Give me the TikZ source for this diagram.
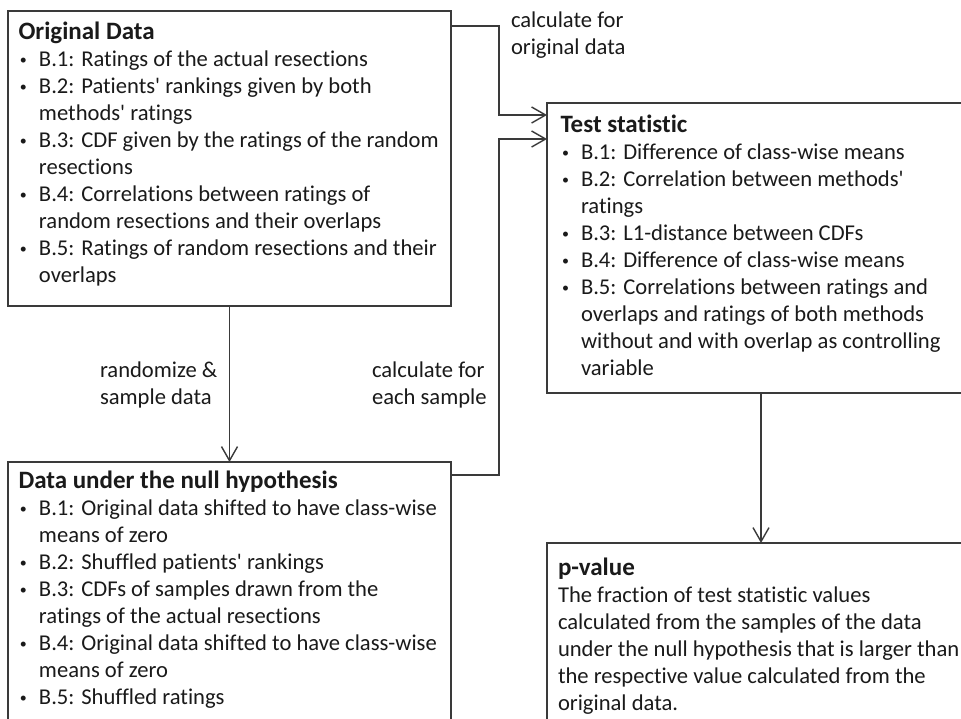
\documentclass[tikz,border=0pt]{standalone}
\usepackage{fontspec}
\newfontfamily\calib[Ligatures=NoCommon]{Carlito}
\usetikzlibrary{arrows.meta,calc}
\definecolor{ln}{HTML}{3A3A3A}
\definecolor{tx}{HTML}{1A1A1A}
\newcommand\nl{\hfil\break}
\newcommand\ttl[1]{{\fontsize{25}{27}\selectfont\bfseries #1}\par}
\newcommand\bul{\hbox to 20.5pt{\kern1.5pt\raisebox{2pt}{\fontsize{14}{14}\selectfont•}\hss}}
\newcommand\itm[1]{\hangindent=20.5pt\hangafter=1\noindent\bul #1\par}
\newcommand\blk[1]{\vtop{\hsize=600pt\calib\fontsize{22.6}{27}\selectfont\parindent=0pt\parfillskip=0pt plus 1fil\lineskiplimit=-20pt #1}}
\tikzset{
  x=1pt, y=-1pt,
  bx/.style={draw=ln, line width=1.5pt, anchor=north west, inner sep=0pt, outer sep=0pt},
  txt/.style={anchor=base west, inner sep=0pt, outer sep=0pt, text=tx},
  arr/.style={draw=ln, line width=1.4pt, -{Straight Barb[length=14pt,width=16pt]}}
}
\begin{document}
\begin{tikzpicture}
\useasboundingbox (0,0) rectangle (961,718);
\clip (0,0) rectangle (961,718);
\fill[white] (0,0) rectangle (961,718);

% boxes
\node[bx, minimum width=443pt, minimum height=295pt] (orig) at (8,11) {};
\node[bx, minimum width=428pt, minimum height=290pt] (test) at (547,103) {};
\node[bx, minimum width=443pt, minimum height=300pt] (null) at (8,462) {};
\node[bx, minimum width=428pt, minimum height=250pt] (pval) at (547,543) {};

% box texts
\node[txt] (origt) at (18.5,39) {\blk{\ttl{Original Data}
\itm{B.1: Ratings of the actual resections}
\itm{B.2: Patients' rankings given by both\nl methods' ratings}
\itm{B.3: CDF given by the ratings of the random\nl resections}
\itm{B.4: Correlations between ratings of\nl random resections and their overlaps}
\itm{B.5: Ratings of random resections and their\nl overlaps}}};

\node[txt] (testt) at (560.5,132) {\blk{\ttl{Test statistic}
\itm{B.1: Difference of class-wise means}
\itm{B.2: Correlation between methods'\nl ratings}
\itm{B.3: L1-distance between CDFs}
\itm{B.4: Difference of class-wise means}
\itm{B.5: Correlations between ratings and\nl overlaps and ratings of both methods\nl without and with overlap as controlling\nl variable}}};

\node[txt] (nullt) at (18.5,488) {\blk{\ttl{Data under the null hypothesis}
\itm{B.1: Original data shifted to have class-wise\nl means of zero}
\itm{B.2: Shuffled patients' rankings}
\itm{B.3: CDFs of samples drawn from the\nl ratings of the actual resections}
\itm{B.4: Original data shifted to have class-wise\nl means of zero}
\itm{B.5: Shuffled ratings}}};

\node[txt] (pvalt) at (558,575) {\blk{\ttl{p-value}
The fraction of test statistic values\nl calculated from the samples of the data\nl under the null hypothesis that is larger than\nl the respective value calculated from the\nl original data.}};

% connector labels
\node[txt] (l1) at (511,27) {\blk{calculate for\nl original data}};
\node[txt] (l2) at (100,377) {\blk{randomize \&\nl sample data}};
\node[txt] (l3) at (372,377) {\blk{calculate for\nl each sample}};

% connectors
\coordinate (a1) at (499,26);
\coordinate (a2) at (499,115);
\coordinate (b1) at (499,475);
\coordinate (b2) at (499,139);
\draw[arr] (orig.south) -- (null.north);
\draw[arr] (orig.east |- a1) -- (a1) -- (a2) -- (test.west |- a2);
\draw[arr] (null.east |- b1) -- (b1) -- (b2) -- (test.west |- b2);
\draw[arr] (test.south) -- (pval.north);
\end{tikzpicture}
\end{document}
